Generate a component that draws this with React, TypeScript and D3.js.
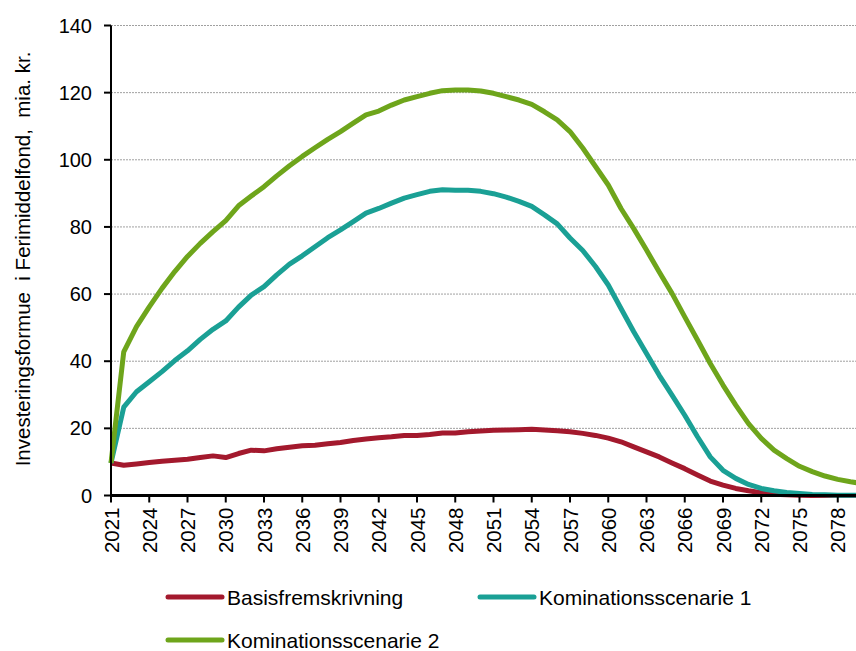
import React from "react";
import * as d3 from "d3";

const years: number[] = d3.range(2021, 2081);
const tickYears: number[] = d3.range(2021, 2079, 3);
const yTicks: number[] = [0, 20, 40, 60, 80, 100, 120, 140];

const basis: number[] = [
  9.7, 9.0, 9.4, 9.8, 10.2, 10.5, 10.8, 11.3, 11.8, 11.3,
  12.5, 13.5, 13.3, 13.9, 14.4, 14.8, 15.0, 15.4, 15.8, 16.4,
  16.8, 17.2, 17.5, 17.9, 17.9, 18.2, 18.6, 18.6, 19.0, 19.2,
  19.4, 19.5, 19.6, 19.7, 19.5, 19.3, 19.0, 18.5, 17.9, 17.1,
  16.0, 14.5, 13.0, 11.5, 9.7, 8.0, 6.1, 4.3, 3.1, 2.1,
  1.4, 0.8, 0.4, 0.2, 0.1, 0, 0, 0, 0, 0,
];
const komb1: number[] = [
  9.7, 26.3, 30.9, 33.9, 36.9, 40.2, 43.1, 46.5, 49.5, 52.0,
  56.1, 59.7, 62.2, 65.7, 68.9, 71.4, 74.1, 76.8, 79.1, 81.6,
  84.1, 85.5, 87.1, 88.6, 89.6, 90.6, 91.1, 90.9, 90.9, 90.6,
  89.9, 88.9, 87.6, 86.1, 83.6, 80.9, 76.7, 73.0, 68.2, 62.7,
  55.7, 48.8, 42.3, 35.8, 29.9, 23.9, 17.5, 11.5, 7.5, 5.1,
  3.3, 2.1, 1.4, 0.9, 0.6, 0.3, 0.2, 0.1, 0.1, 0.1,
];
const komb2: number[] = [
  9.7, 42.8, 50.3, 56.2, 61.7, 66.7, 71.2, 75.1, 78.6, 81.9,
  86.3, 89.2, 92.0, 95.2, 98.2, 101.0, 103.6, 106.1, 108.4, 110.9,
  113.4, 114.5, 116.3, 117.8, 118.8, 119.8, 120.6, 120.8, 120.8, 120.5,
  119.8, 118.8, 117.8, 116.5, 114.3, 111.9, 108.4, 103.5, 98.0, 92.5,
  85.5, 79.5, 73.1, 66.6, 60.2, 53.2, 46.3, 39.3, 32.9, 26.9,
  21.4, 17.0, 13.5, 11.0, 8.7, 7.1, 5.8, 4.8, 4.1, 3.5,
];

const seriesNames: string[] = ["Basisfremskrivning", "Kominationsscenarie 1", "Kominationsscenarie 2"];
const seriesColors: string[] = ["#A3192D", "#1AA095", "#6EA51B"];
const seriesValues: number[][] = [basis, komb1, komb2];

const W = 856;
const H = 651;
const FONT = "'Liberation Sans', Arial, sans-serif";

export default function App() {
  const x = d3.scaleLinear().domain([2021, 2080]).range([111, 863.25]);
  const y = d3.scaleLinear().domain([0, 140]).range([495.5, 25.5]);
  const line = d3
    .line<number>()
    .x((_, i) => x(years[i]))
    .y((v) => y(v));

  const legendItems = [
    { i: 0, lx: 168, ly: 597 },
    { i: 1, lx: 480, ly: 597 },
    { i: 2, lx: 168, ly: 640 },
  ];

  return (
    <svg
      width={W}
      height={H}
      style={{ position: "absolute", left: 0, top: 0, background: "#fff" }}
      fontFamily={FONT}
    >
      <defs>
        <clipPath id="plotclip">
          <rect x={0} y={0} width={W} height={500} />
        </clipPath>
      </defs>
      {yTicks
        .filter((t) => t > 0)
        .map((t) => (
          <line
            key={"g" + t}
            x1={x(2021)}
            x2={W}
            y1={y(t)}
            y2={y(t)}
            stroke="#a0a0a0"
            strokeWidth={1}
            strokeDasharray="2,1"
          />
        ))}
      <g clipPath="url(#plotclip)">
        {seriesValues.map((vals, k) => (
          <path
            key={"s" + k}
            d={line(vals) || ""}
            fill="none"
            stroke={seriesColors[k]}
            strokeWidth={5}
            strokeLinejoin="round"
          />
        ))}
      </g>
      <line x1={x(2021)} x2={x(2021)} y1={y(140)} y2={y(0)} stroke="#000" strokeWidth={2} />
      {yTicks.map((t) => (
        <g key={"yt" + t}>
          <line x1={x(2021) - 7} x2={x(2021)} y1={y(t)} y2={y(t)} stroke="#000" strokeWidth={2} />
          <text
            x={92}
            y={y(t)}
            textAnchor="end"
            dominantBaseline="central"
            fontSize={20}
            fill="#000"
          >
            {t}
          </text>
        </g>
      ))}
      <line x1={x(2021) - 1} x2={W} y1={y(0)} y2={y(0)} stroke="#000" strokeWidth={3} />
      {tickYears.map((yr) => (
        <g key={"xt" + yr}>
          <line x1={x(yr)} x2={x(yr)} y1={y(0)} y2={y(0) + 7} stroke="#000" strokeWidth={2} />
          <text
            transform={`translate(${x(yr)},${y(0) + 12}) rotate(-90)`}
            textAnchor="end"
            dominantBaseline="central"
            fontSize={20.5}
            fill="#000"
          >
            {yr}
          </text>
        </g>
      ))}
      <text
        transform={`translate(22,259) rotate(-90)`}
        textAnchor="middle"
        dominantBaseline="central"
        fontSize={20.5}
        fill="#000"
        style={{ whiteSpace: "pre" }}
      >
        {"Investeringsformue  i Ferimiddelfond,  mia. kr."}
      </text>
      {legendItems.map(({ i, lx, ly }) => (
        <g key={"l" + i}>
          <line x1={lx} x2={lx + 54} y1={ly} y2={ly} stroke={seriesColors[i]} strokeWidth={5} strokeLinecap="round" />
          <text x={lx + 59} y={ly} dominantBaseline="central" fontSize={21} fill="#000">
            {seriesNames[i]}
          </text>
        </g>
      ))}
    </svg>
  );
}
